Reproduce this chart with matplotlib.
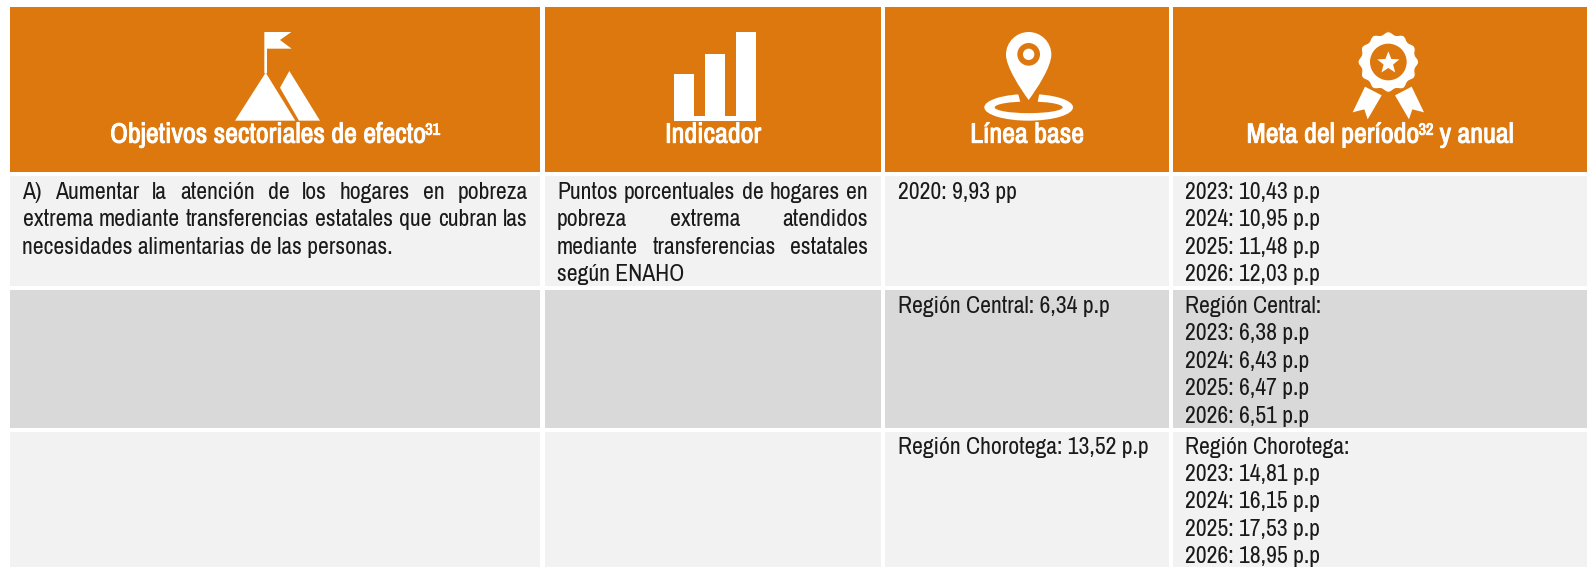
import matplotlib
matplotlib.use('Agg')
import numpy as np
import matplotlib.pyplot as plt
import matplotlib.patheffects as pe
from matplotlib.patches import Rectangle, Polygon, Circle, Ellipse, PathPatch
from matplotlib.path import Path

plt.rcParams['font.family'] = ['Archivo Narrow', 'PT Sans Narrow', 'Liberation Sans', 'DejaVu Sans']

ORANGE = '#DC780D'
LIGHT = '#F2F2F2'
DARK = '#D9D9D9'
INK = '#1A1A1A'

# column edges and row edges, px
col_x = [(10, 540), (545, 881), (885, 1169), (1173, 1587)]
row_y = [(176, 286), (290, 428), (432, 567)]
row_fill = [LIGHT, DARK, LIGHT]

# header runs: (text, superscript?)
header1 = [('Objetivos sectoriales de efecto', False), ('31', True)]
header2 = [('Indicador', False)]
header3 = [('Línea base', False)]
header4 = [('Meta del período', False), ('32', True), (' y anual', False)]
headers = [header1, header2, header3, header4]

objetivo = ['A) Aumentar la atención de los hogares en pobreza',
            'extrema mediante transferencias estatales que cubran las',
            'necesidades alimentarias de las personas.']
indicador = ['Puntos porcentuales de hogares en',
             'pobreza extrema atendidos',
             'mediante transferencias estatales',
             'según ENAHO']
linea_base = ['2020: 9,93 pp', 'Región Central: 6,34 p.p', 'Región Chorotega: 13,52 p.p']
meta_nacional = ['2023: 10,43 p.p', '2024: 10,95 p.p', '2025: 11,48 p.p', '2026: 12,03 p.p']
meta_central = ['Región Central:', '2023: 6,38 p.p', '2024: 6,43 p.p', '2025: 6,47 p.p', '2026: 6,51 p.p']
meta_chorotega = ['Región Chorotega:', '2023: 14,81 p.p', '2024: 16,15 p.p', '2025: 17,53 p.p', '2026: 18,95 p.p']

BODY_PT = 17.1
HEAD_PT = 20.2
LINE = 27.4
first_base = [199, 313, 453.5]

fig = plt.figure(figsize=(15.87, 5.67), dpi=100)
ax = fig.add_axes([0, 0, 1, 1])
ax.set_xlim(0, 1587)
ax.set_ylim(567, 0)
ax.axis('off')
renderer = fig.canvas.get_renderer()


def put(x, y, s, size=BODY_PT, color=INK):
    return ax.text(x, y, s, fontsize=size, color=color, va='baseline', ha='left')


def width(t):
    return t.get_window_extent(renderer).width


def justified(x0, x1, y, line):
    words = line.split(' ')
    items = [put(x0, y, w) for w in words]
    widths = [width(t) for t in items]
    gap = (x1 - x0 - sum(widths)) / (len(words) - 1)
    x = x0
    for t, w in zip(items, widths):
        t.set_x(x)
        x += w + gap


def header_text(cx, y, runs):
    items = []
    total = 0
    for s, sup in runs:
        size = HEAD_PT * 0.58 if sup else HEAD_PT
        # leading blank is not measured, so add it by hand
        lead = 6 if s.startswith(' ') else 0
        t = put(0, y - (8 if sup else 0), s.strip(), size, 'white')
        # no bold cut of the font, thicken it a little
        t.set_path_effects([pe.withStroke(linewidth=0.7, foreground='white')])
        w = width(t)
        items.append((t, lead, w))
        total += lead + w
    x = cx - total / 2
    for t, lead, w in items:
        t.set_x(x + lead)
        x += lead + w


def white_poly(points, ox, oy, sx=1 / 3, sy=1 / 3, color='white'):
    pts = [(ox + a * sx, oy + b * sy) for a, b in points]
    ax.add_patch(Polygon(pts, closed=True, fc=color, ec='none', zorder=3))


# backgrounds
for (x0, x1) in col_x:
    ax.add_patch(Rectangle((x0, 7), x1 - x0, 165, fc=ORANGE, ec='none'))
    for (y0, y1), c in zip(row_y, row_fill):
        ax.add_patch(Rectangle((x0, y0), x1 - x0, y1 - y0, fc=c, ec='none'))

# mountain icon
white_poly([(133, 36), (214, 36), (180, 60), (215, 86), (141, 86), (141, 160), (133, 160)], 220, 20)
white_poly([(137, 158), (226, 302), (45, 302)], 220, 20)
white_poly([(208, 153), (300, 302), (237, 302), (180, 203)], 220, 20)

# bars icon
for bx, top in zip([674, 704.6, 735.7], [74, 53.7, 32]):
    ax.add_patch(Rectangle((bx, top), 20.4, 120.7 - top, fc='white', ec='none', zorder=3))
ax.add_patch(Rectangle((674, 115.7), 82, 5, fc='white', ec='none', zorder=3))

# pin icon
ox, oy, k = 960, 20, 1 / 3
ax.add_patch(Ellipse((ox + 206 * k, oy + 262 * k), 266 * k, 80 * k, fc='white', ec='none', zorder=3))
ax.add_patch(Ellipse((ox + 206 * k, oy + 262 * k), 204 * k, 35 * k, fc=ORANGE, ec='none', zorder=3))
white_poly([(182, 250), (172, 212), (240, 212), (232, 250)], ox, oy, color=ORANGE)
pin = [(206, 36), (169, 36), (138, 66), (138, 104), (138, 140), (180, 205), (206, 240),
       (232, 205), (274, 140), (274, 104), (274, 66), (243, 36), (206, 36)]
codes = [Path.MOVETO] + [Path.CURVE4] * 12
pin_px = [(ox + a * k, oy + b * k) for a, b in pin]
ax.add_patch(PathPatch(Path(pin_px, codes), fc='white', ec='none', zorder=4))
ax.add_patch(Circle((ox + 206 * k, oy + 103 * k), 34 * k, fc=ORANGE, ec='none', zorder=5))
ax.add_patch(Circle((ox + 206 * k, oy + 103 * k), 17 * k, fc='white', ec='none', zorder=6))

# rosette icon
ox, oy = 1340, 20
white_poly([(75, 200), (125, 226), (83, 298), (73, 268), (38, 277)], ox, oy)
white_poly([(215, 200), (165, 226), (207, 298), (217, 268), (252, 277)], ox, oy)
ang = np.linspace(0, 2 * np.pi, 360)
rad = 87 + 4 * np.cos(12 * ang)
ax.add_patch(Polygon(np.column_stack([ox + (145 + rad * np.cos(ang)) * k, oy + (126 + rad * np.sin(ang)) * k]),
                     closed=True, fc='white', ec=ORANGE, lw=0.8, zorder=4))
ax.add_patch(Circle((ox + 145 * k, oy + 126 * k), 55 * k, fc=ORANGE, ec='none', zorder=5))
star_a = -np.pi / 2 + np.arange(10) * np.pi / 5
star_r = np.where(np.arange(10) % 2 == 0, 35, 15)
star = np.column_stack([ox + (145 + star_r * np.cos(star_a)) * k, oy + (129 + star_r * np.sin(star_a)) * k])
ax.add_patch(Polygon(star, closed=True, fc='white', ec='none', zorder=6))

# header labels
for (x0, x1), runs in zip(col_x, headers):
    header_text((x0 + x1) / 2, 142.7, runs)

# body
for i, line in enumerate(objetivo):
    y = first_base[0] + i * LINE
    if i < 2:
        justified(22.5, 528, y, line)
    else:
        put(22.5, y, line)

for i, line in enumerate(indicador):
    y = first_base[0] + i * LINE
    if i < 3:
        justified(557, 868, y, line)
    else:
        put(557, y, line)

for y, s in zip(first_base, linea_base):
    put(898, y, s)

for y0, lines in zip(first_base, [meta_nacional, meta_central, meta_chorotega]):
    for i, line in enumerate(lines):
        put(1185, y0 + i * LINE, line)

fig.savefig('out.png', dpi=100)
